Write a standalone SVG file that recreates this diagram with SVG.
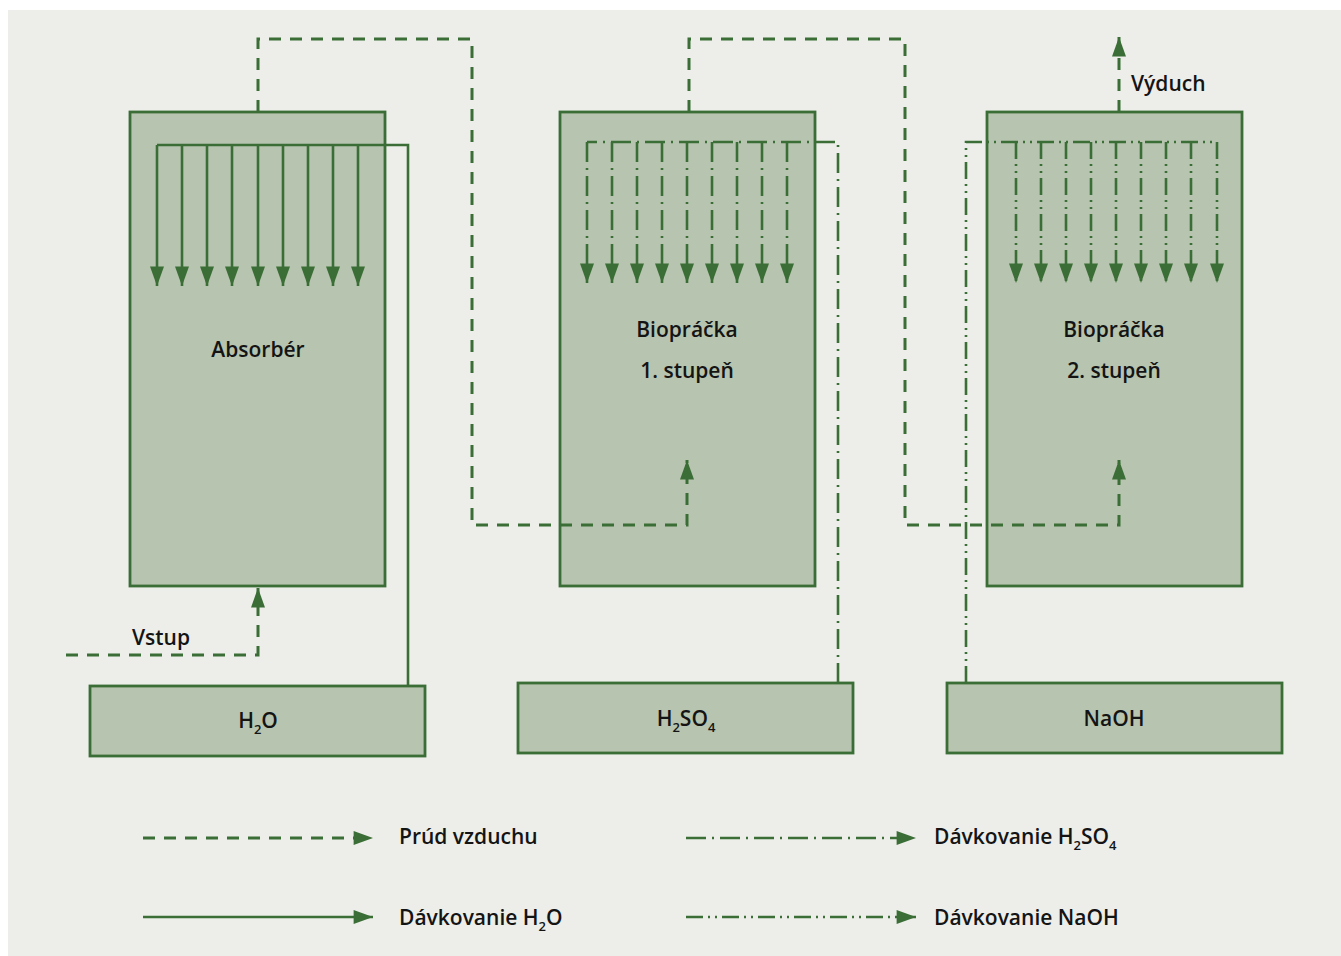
<svg xmlns="http://www.w3.org/2000/svg" width="1341" height="956" viewBox="0 0 1341 956">
  <style>
    .box { fill: #b7c4af; stroke: #3b6e36; stroke-width: 2.8; }
    .ln { fill: none; stroke: #3b6e36; stroke-width: 2.6; }
    .air { stroke-dasharray: 12 9; stroke-width: 3; }
    .acid { stroke-dasharray: 20 6 2 6; }
    .base { stroke-dasharray: 17 5 2 5 2 5; }
    .lbl { font-family: "Open Sans", "Noto Sans", "Liberation Sans", sans-serif; font-weight: 600; font-size: 21px; fill: #141414; }
    .sub { font-size: 13px; }
  </style>
  <defs>
    <marker id="arr" markerUnits="userSpaceOnUse" markerWidth="20" markerHeight="14" viewBox="0 0 18 13" refX="18" refY="6.5" orient="auto">
      <path d="M0,0 L18,6.5 L0,13 Z" fill="#3b6e36"/>
    </marker>
  </defs>

  <!-- background panel -->
  <rect x="0" y="0" width="1341" height="956" fill="#ffffff"/>
  <rect x="8" y="10" width="1333" height="946" fill="#edeee9"/>

  <!-- vessels -->
  <g id="absorber">
    <rect class="box" x="130" y="112" width="255" height="474"/>
    <text class="lbl" x="258" y="357" text-anchor="middle">Absorbér</text>
  </g>
  <g id="bio1">
    <rect class="box" x="560" y="112" width="255" height="474"/>
    <text class="lbl" x="687" y="337" text-anchor="middle">Biopráčka</text>
    <text class="lbl" x="687" y="378" text-anchor="middle">1. stupeň</text>
  </g>
  <g id="bio2">
    <rect class="box" x="987" y="112" width="255" height="474"/>
    <text class="lbl" x="1114" y="337" text-anchor="middle">Biopráčka</text>
    <text class="lbl" x="1114" y="378" text-anchor="middle">2. stupeň</text>
  </g>

  <!-- dosing tanks -->
  <g id="tank-h2o">
    <rect class="box" x="90" y="686" width="335" height="70"/>
    <text class="lbl" x="258" y="728" text-anchor="middle">H<tspan class="sub" dy="6">2</tspan><tspan dy="-6">O</tspan></text>
  </g>
  <g id="tank-h2so4">
    <rect class="box" x="518" y="683" width="335" height="70"/>
    <text class="lbl" x="686" y="726" text-anchor="middle">H<tspan class="sub" dy="6">2</tspan><tspan dy="-6">SO</tspan><tspan class="sub" dy="6">4</tspan></text>
  </g>
  <g id="tank-naoh">
    <rect class="box" x="947" y="683" width="335" height="70"/>
    <text class="lbl" x="1114" y="726" text-anchor="middle">NaOH</text>
  </g>

  <!-- connectors -->
  <g id="connectors">
    <!-- air flow -->
    <path class="ln air" d="M66,655 H258 V588" marker-end="url(#arr)"/>
    <path class="ln air" d="M258,112 V39 H472 V525 H687 V460" marker-end="url(#arr)"/>
    <path class="ln air" d="M689,112 V39 H905 V525 H1119 V460" marker-end="url(#arr)"/>
    <path class="ln air" d="M1119,112 V37" marker-end="url(#arr)"/>

    <!-- water dosing -->
    <path class="ln" d="M408,686 V145 H157"/>
    <g marker-end="url(#arr)">
      <path class="ln" d="M157,145 V286"/>
      <path class="ln" d="M182,145 V286"/>
      <path class="ln" d="M207,145 V286"/>
      <path class="ln" d="M232,145 V286"/>
      <path class="ln" d="M258,145 V286"/>
      <path class="ln" d="M283,145 V286"/>
      <path class="ln" d="M308,145 V286"/>
      <path class="ln" d="M333,145 V286"/>
      <path class="ln" d="M358,145 V286"/>
    </g>

    <!-- acid dosing -->
    <path class="ln acid" d="M838,683 V142 H587"/>
    <g marker-end="url(#arr)">
      <path class="ln acid" d="M587,142 V283"/>
      <path class="ln acid" d="M612,142 V283"/>
      <path class="ln acid" d="M637,142 V283"/>
      <path class="ln acid" d="M662,142 V283"/>
      <path class="ln acid" d="M687,142 V283"/>
      <path class="ln acid" d="M712,142 V283"/>
      <path class="ln acid" d="M737,142 V283"/>
      <path class="ln acid" d="M762,142 V283"/>
      <path class="ln acid" d="M787,142 V283"/>
    </g>

    <!-- caustic dosing -->
    <path class="ln base" d="M966,683 V142 H1217"/>
    <g marker-end="url(#arr)">
      <path class="ln base" d="M1016,142 V283"/>
      <path class="ln base" d="M1041,142 V283"/>
      <path class="ln base" d="M1066,142 V283"/>
      <path class="ln base" d="M1091,142 V283"/>
      <path class="ln base" d="M1116,142 V283"/>
      <path class="ln base" d="M1141,142 V283"/>
      <path class="ln base" d="M1166,142 V283"/>
      <path class="ln base" d="M1191,142 V283"/>
      <path class="ln base" d="M1217,142 V283"/>
    </g>
  </g>

  <!-- stream labels -->
  <g id="stream-labels">
    <text class="lbl" x="132" y="645">Vstup</text>
    <text class="lbl" x="1131" y="91">Výduch</text>
  </g>

  <!-- legend -->
  <g id="legend">
    <path class="ln air" d="M143,838 H373" marker-end="url(#arr)"/>
    <path class="ln" d="M143,917 H373" marker-end="url(#arr)"/>
    <path class="ln acid" d="M686,838 H916" marker-end="url(#arr)"/>
    <path class="ln base" d="M686,917 H916" marker-end="url(#arr)"/>
    <text class="lbl" x="399" y="844">Prúd vzduchu</text>
    <text class="lbl" x="399" y="925">Dávkovanie H<tspan class="sub" dy="6">2</tspan><tspan dy="-6">O</tspan></text>
    <text class="lbl" x="934" y="844">Dávkovanie H<tspan class="sub" dy="6">2</tspan><tspan dy="-6">SO</tspan><tspan class="sub" dy="6">4</tspan></text>
    <text class="lbl" x="934" y="925">Dávkovanie NaOH</text>
  </g>
</svg>
